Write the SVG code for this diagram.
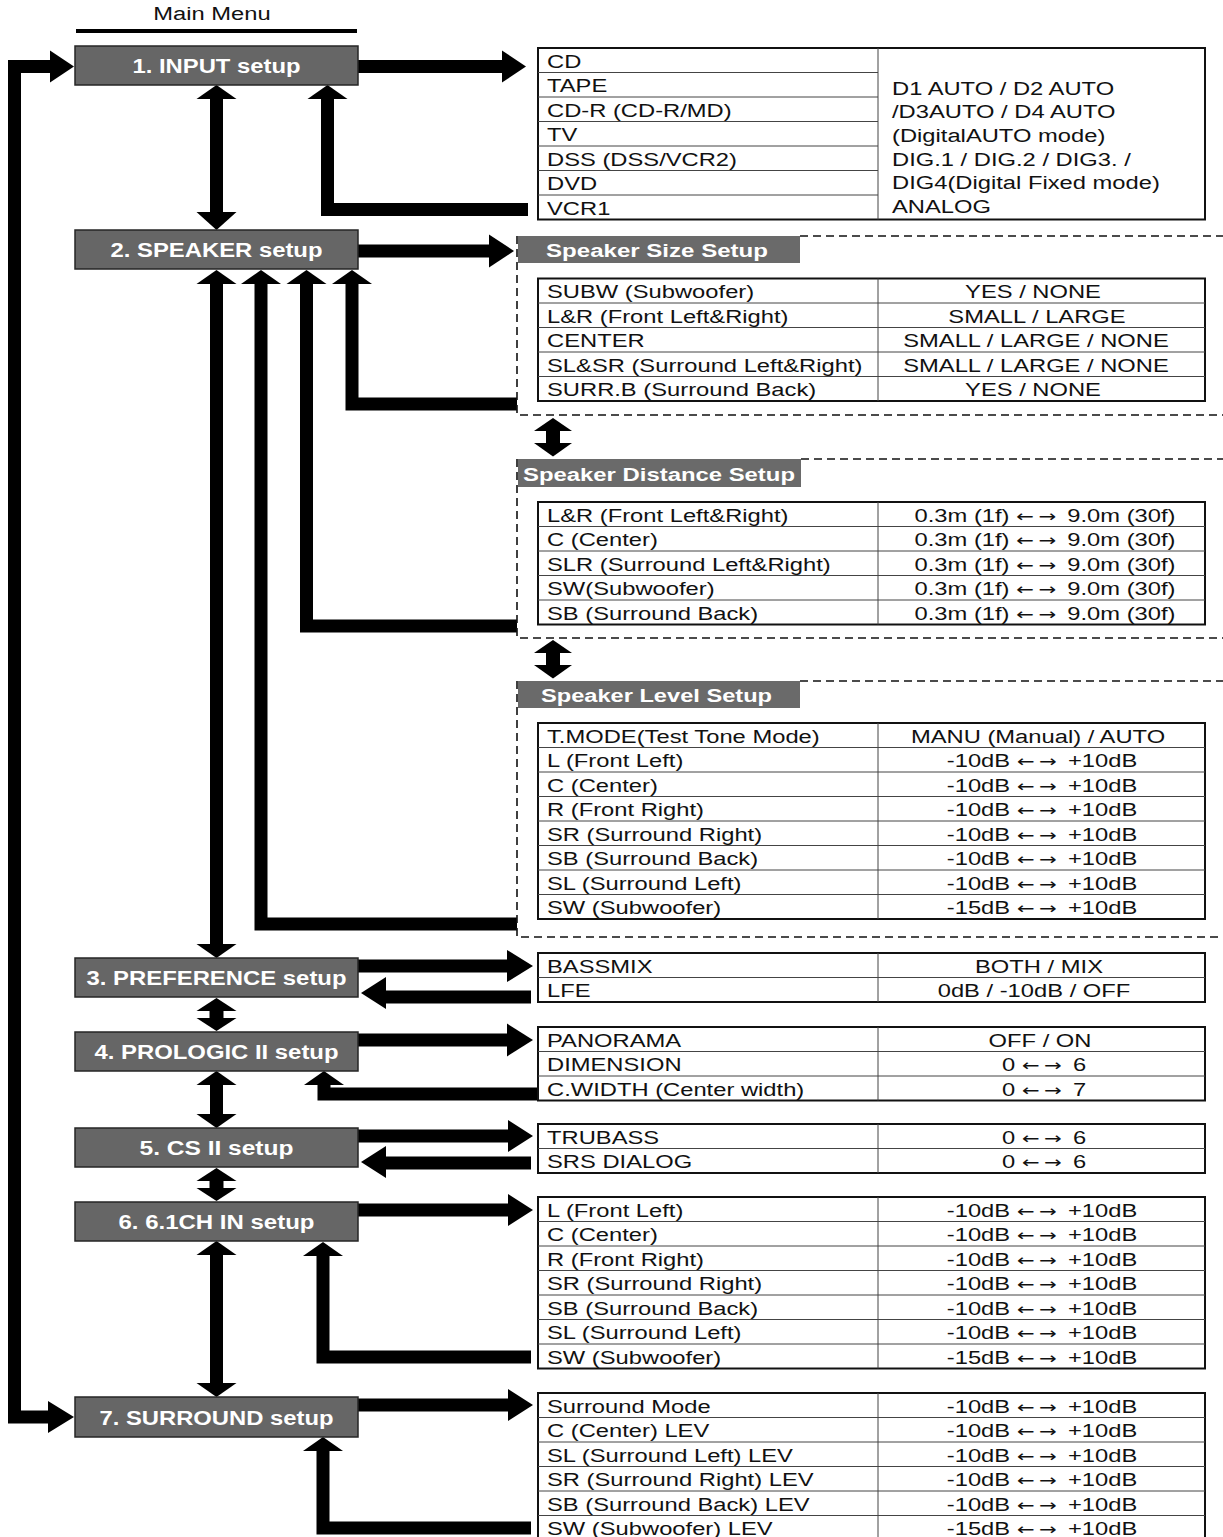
<svg xmlns="http://www.w3.org/2000/svg" width="1223" height="1537" viewBox="0 0 1223 1537">
<style>
.bg{fill:#ffffff}
.box{fill:#666666;stroke:#262626;stroke-width:1.5}
.hbar{fill:#6a6a6a}
.lbl{font-family:"Liberation Sans",Arial,Helvetica,sans-serif;font-weight:bold;font-size:20px;fill:#ffffff;text-anchor:middle}
.hdr{font-family:"Liberation Sans",Arial,Helvetica,sans-serif;font-weight:bold;font-size:18px;fill:#ffffff}
.t{font-family:"Liberation Sans",Arial,Helvetica,sans-serif;font-size:18px;fill:#111111}
.c{text-anchor:middle}
.ar{font-family:"DejaVu Sans",sans-serif;font-size:16px;letter-spacing:3.5px}
.tbl{fill:#ffffff;stroke:#111111;stroke-width:2}
.grid{fill:none;stroke:#444444;stroke-width:1}
.dash{fill:none;stroke:#111111;stroke-width:1.6;stroke-dasharray:8 5}
.shaft{fill:none;stroke:#000000;stroke-width:13;stroke-linejoin:miter;stroke-linecap:butt}
.head{fill:#000000}
.rule{stroke:#000000;stroke-width:4}
</style>
<rect class="bg" x="0" y="0" width="1223" height="1537"/>

<g id="title">
<text class="t c" transform="matrix(1.32 0 0 1 212 20)">Main Menu</text>
<line class="rule" x1="76" y1="31" x2="357" y2="31"/>
</g>

<g id="connectors">
<path class="shaft" d="M51 66.5 H14.5 V1417 H49"/>
<polygon class="head" points="50,50.5 74,66.5 50,82.5"/>
<polygon class="head" points="48,1401 74,1417 48,1433"/>
<path class="shaft" d="M358 66.5 H504"/>
<polygon class="head" points="502,50.5 526,66.5 502,82.5"/>
<path class="shaft" d="M528 209.5 H327.5 V98"/>
<polygon class="head" points="307.5,99 327.5,85 347.5,99"/>
<path class="shaft" d="M216.5 98 V213"/>
<polygon class="head" points="196.5,99 216.5,85 236.5,99"/>
<polygon class="head" points="196.5,212 216.5,230 236.5,212"/>
<path class="shaft" d="M358 251 H491"/>
<polygon class="head" points="489,234.5 514,251 489,267.5"/>
<path class="shaft" d="M216.5 283 V945"/>
<polygon class="head" points="196.5,284 216.5,270 236.5,284"/>
<polygon class="head" points="196.5,944 216.5,958 236.5,944"/>
<path class="shaft" d="M517 924 H261 V283"/>
<polygon class="head" points="241,284 261,270 281,284"/>
<path class="shaft" d="M517 626 H306.5 V283"/>
<polygon class="head" points="286.5,284 306.5,270 326.5,284"/>
<path class="shaft" d="M517 404 H352 V283"/>
<polygon class="head" points="332,284 352,270 372,284"/>
<path class="shaft" d="M553 430 V444" style="stroke-width:14"/>
<polygon class="head" points="534,431 553,418 572,431"/>
<polygon class="head" points="534,443 553,456.5 572,443"/>
<path class="shaft" d="M553 652 V666" style="stroke-width:14"/>
<polygon class="head" points="534,653 553,640 572,653"/>
<polygon class="head" points="534,665 553,678.5 572,665"/>
<path class="shaft" d="M358 966 H509"/>
<polygon class="head" points="507,950 533,966 507,982"/>
<path class="shaft" d="M531 997 H384"/>
<polygon class="head" points="386,977 361,993 386,1009"/>
<path class="shaft" d="M216.5 1010 V1019" style="stroke-width:14"/>
<polygon class="head" points="196.5,1011 216.5,998 236.5,1011"/>
<polygon class="head" points="196.5,1018 216.5,1031 236.5,1018"/>
<path class="shaft" d="M358 1040 H509"/>
<polygon class="head" points="507,1023.5 533,1040 507,1056.5"/>
<path class="shaft" d="M538 1094 H324 V1084"/>
<polygon class="head" points="304,1085 324,1071 344,1085"/>
<path class="shaft" d="M216.5 1084 V1115"/>
<polygon class="head" points="196.5,1085 216.5,1071 236.5,1085"/>
<polygon class="head" points="196.5,1114 216.5,1128 236.5,1114"/>
<path class="shaft" d="M358 1136 H510"/>
<polygon class="head" points="508,1120 533,1136 508,1152"/>
<path class="shaft" d="M531 1163 H384"/>
<polygon class="head" points="386,1146 361,1162 386,1178"/>
<path class="shaft" d="M216.5 1180 V1189" style="stroke-width:14"/>
<polygon class="head" points="196.5,1181 216.5,1168 236.5,1181"/>
<polygon class="head" points="196.5,1188 216.5,1201 236.5,1188"/>
<path class="shaft" d="M358 1210 H510"/>
<polygon class="head" points="508,1194 533,1210 508,1226"/>
<path class="shaft" d="M531 1357 H323 V1255"/>
<polygon class="head" points="303,1256 323,1242 343,1256"/>
<path class="shaft" d="M216.5 1254 V1384"/>
<polygon class="head" points="196.5,1255 216.5,1241 236.5,1255"/>
<polygon class="head" points="196.5,1383 216.5,1397 236.5,1383"/>
<path class="shaft" d="M358 1405 H510"/>
<polygon class="head" points="508,1389 533,1405 508,1421"/>
<path class="shaft" d="M531 1528 H323 V1450"/>
<polygon class="head" points="303,1451 323,1437 343,1451"/>
</g>

<g id="node-input">
<rect class="box" x="75" y="46" width="283" height="39"/>
<text class="lbl" x="216.5" y="73" textLength="168" lengthAdjust="spacingAndGlyphs">1. INPUT setup</text>
</g>
<g id="node-speaker">
<rect class="box" x="75" y="230" width="283" height="39"/>
<text class="lbl" x="216.5" y="257" textLength="212" lengthAdjust="spacingAndGlyphs">2. SPEAKER setup</text>
</g>
<g id="node-preference">
<rect class="box" x="75" y="958" width="283" height="39"/>
<text class="lbl" x="216.5" y="985" textLength="260" lengthAdjust="spacingAndGlyphs">3. PREFERENCE setup</text>
</g>
<g id="node-prologic">
<rect class="box" x="75" y="1032" width="283" height="39"/>
<text class="lbl" x="216.5" y="1059" textLength="244" lengthAdjust="spacingAndGlyphs">4. PROLOGIC II setup</text>
</g>
<g id="node-cs">
<rect class="box" x="75" y="1128" width="283" height="39"/>
<text class="lbl" x="216.5" y="1155" textLength="154" lengthAdjust="spacingAndGlyphs">5. CS II setup</text>
</g>
<g id="node-61ch">
<rect class="box" x="75" y="1202" width="283" height="39"/>
<text class="lbl" x="216.5" y="1229" textLength="196" lengthAdjust="spacingAndGlyphs">6. 6.1CH IN setup</text>
</g>
<g id="node-surround">
<rect class="box" x="75" y="1397" width="283" height="40"/>
<text class="lbl" x="216.5" y="1424.5" textLength="234" lengthAdjust="spacingAndGlyphs">7. SURROUND setup</text>
</g>

<g id="table-input">
<rect class="tbl" x="538" y="48" width="667" height="171.5"/>
<path class="grid" d="M878 48 V219.5 M538 72.5 H878 M538 97 H878 M538 121.5 H878 M538 146 H878 M538 170.5 H878 M538 195 H878"/>
<text class="t" transform="matrix(1.32 0 0 1 547 67.5)">CD</text>
<text class="t" transform="matrix(1.32 0 0 1 547 92)">TAPE</text>
<text class="t" transform="matrix(1.32 0 0 1 547 116.5)">CD-R (CD-R/MD)</text>
<text class="t" transform="matrix(1.32 0 0 1 547 141)">TV</text>
<text class="t" transform="matrix(1.32 0 0 1 547 165.5)">DSS (DSS/VCR2)</text>
<text class="t" transform="matrix(1.32 0 0 1 547 190)">DVD</text>
<text class="t" transform="matrix(1.32 0 0 1 547 214.5)">VCR1</text>
<text class="t" transform="matrix(1.32 0 0 1 892 94.5)">D1 AUTO / D2 AUTO</text>
<text class="t" transform="matrix(1.32 0 0 1 892 118.2)">/D3AUTO / D4 AUTO</text>
<text class="t" transform="matrix(1.32 0 0 1 892 141.9)">(DigitalAUTO mode)</text>
<text class="t" transform="matrix(1.32 0 0 1 892 165.6)">DIG.1 / DIG.2 / DIG3. /</text>
<text class="t" transform="matrix(1.32 0 0 1 892 189.3)">DIG4(Digital Fixed mode)</text>
<text class="t" transform="matrix(1.32 0 0 1 892 213)">ANALOG</text>
</g>

<g id="panel-speaker-size">
<path class="dash" d="M800 236 H1223 M517 236 V415 H1223"/>
<rect class="hbar" x="518" y="236" width="282" height="27"/>
<text class="hdr" x="546" y="257" textLength="222" lengthAdjust="spacingAndGlyphs">Speaker Size Setup</text>
<rect class="tbl" x="538" y="278.5" width="667" height="122.5"/>
<path class="grid" d="M878 278.5 V401 M538 303 H1205 M538 327.5 H1205 M538 352 H1205 M538 376.5 H1205"/>
<text class="t" transform="matrix(1.32 0 0 1 547 298)">SUBW (Subwoofer)</text>
<text class="t" transform="matrix(1.32 0 0 1 547 322.5)">L&amp;R (Front Left&amp;Right)</text>
<text class="t" transform="matrix(1.32 0 0 1 547 347)">CENTER</text>
<text class="t" transform="matrix(1.32 0 0 1 547 371.5)">SL&amp;SR (Surround Left&amp;Right)</text>
<text class="t" transform="matrix(1.32 0 0 1 547 396)">SURR.B (Surround Back)</text>
<text class="t c" transform="matrix(1.32 0 0 1 1033 298)">YES / NONE</text>
<text class="t c" transform="matrix(1.32 0 0 1 1037 322.5)">SMALL / LARGE</text>
<text class="t c" transform="matrix(1.32 0 0 1 1036 347)">SMALL / LARGE / NONE</text>
<text class="t c" transform="matrix(1.32 0 0 1 1036 371.5)">SMALL / LARGE / NONE</text>
<text class="t c" transform="matrix(1.32 0 0 1 1033 396)">YES / NONE</text>
</g>

<g id="panel-speaker-distance">
<path class="dash" d="M801 459 H1223 M517 459 V638 H1223"/>
<rect class="hbar" x="518" y="459" width="283" height="28"/>
<text class="hdr" x="523" y="481" textLength="272" lengthAdjust="spacingAndGlyphs">Speaker Distance Setup</text>
<rect class="tbl" x="538" y="502" width="667" height="122.5"/>
<path class="grid" d="M878 502 V624.5 M538 526.5 H1205 M538 551 H1205 M538 575.5 H1205 M538 600 H1205"/>
<text class="t" transform="matrix(1.32 0 0 1 547 521.5)">L&amp;R (Front Left&amp;Right)</text>
<text class="t" transform="matrix(1.32 0 0 1 547 546)">C (Center)</text>
<text class="t" transform="matrix(1.32 0 0 1 547 570.5)">SLR (Surround Left&amp;Right)</text>
<text class="t" transform="matrix(1.32 0 0 1 547 595)">SW(Subwoofer)</text>
<text class="t" transform="matrix(1.32 0 0 1 547 619.5)">SB (Surround Back)</text>
<text class="t c" transform="matrix(1.32 0 0 1 1045 521.5)">0.3m (1f) <tspan class="ar">←→</tspan> 9.0m (30f)</text>
<text class="t c" transform="matrix(1.32 0 0 1 1045 546)">0.3m (1f) <tspan class="ar">←→</tspan> 9.0m (30f)</text>
<text class="t c" transform="matrix(1.32 0 0 1 1045 570.5)">0.3m (1f) <tspan class="ar">←→</tspan> 9.0m (30f)</text>
<text class="t c" transform="matrix(1.32 0 0 1 1045 595)">0.3m (1f) <tspan class="ar">←→</tspan> 9.0m (30f)</text>
<text class="t c" transform="matrix(1.32 0 0 1 1045 619.5)">0.3m (1f) <tspan class="ar">←→</tspan> 9.0m (30f)</text>
</g>

<g id="panel-speaker-level">
<path class="dash" d="M800 681 H1223 M517 681 V937 H1223"/>
<rect class="hbar" x="518" y="681" width="282" height="27"/>
<text class="hdr" x="541" y="702" textLength="231" lengthAdjust="spacingAndGlyphs">Speaker Level Setup</text>
<rect class="tbl" x="538" y="723" width="667" height="196"/>
<path class="grid" d="M878 723 V919 M538 747.5 H1205 M538 772 H1205 M538 796.5 H1205 M538 821 H1205 M538 845.5 H1205 M538 870 H1205 M538 894.5 H1205"/>
<text class="t" transform="matrix(1.32 0 0 1 547 742.5)">T.MODE(Test Tone Mode)</text>
<text class="t" transform="matrix(1.32 0 0 1 547 767)">L (Front Left)</text>
<text class="t" transform="matrix(1.32 0 0 1 547 791.5)">C (Center)</text>
<text class="t" transform="matrix(1.32 0 0 1 547 816)">R (Front Right)</text>
<text class="t" transform="matrix(1.32 0 0 1 547 840.5)">SR (Surround Right)</text>
<text class="t" transform="matrix(1.32 0 0 1 547 865)">SB (Surround Back)</text>
<text class="t" transform="matrix(1.32 0 0 1 547 889.5)">SL (Surround Left)</text>
<text class="t" transform="matrix(1.32 0 0 1 547 914)">SW (Subwoofer)</text>
<text class="t c" transform="matrix(1.32 0 0 1 1038 742.5)">MANU (Manual) / AUTO</text>
<text class="t c" transform="matrix(1.32 0 0 1 1042 767)">-10dB <tspan class="ar">←→</tspan> +10dB</text>
<text class="t c" transform="matrix(1.32 0 0 1 1042 791.5)">-10dB <tspan class="ar">←→</tspan> +10dB</text>
<text class="t c" transform="matrix(1.32 0 0 1 1042 816)">-10dB <tspan class="ar">←→</tspan> +10dB</text>
<text class="t c" transform="matrix(1.32 0 0 1 1042 840.5)">-10dB <tspan class="ar">←→</tspan> +10dB</text>
<text class="t c" transform="matrix(1.32 0 0 1 1042 865)">-10dB <tspan class="ar">←→</tspan> +10dB</text>
<text class="t c" transform="matrix(1.32 0 0 1 1042 889.5)">-10dB <tspan class="ar">←→</tspan> +10dB</text>
<text class="t c" transform="matrix(1.32 0 0 1 1042 914)">-15dB <tspan class="ar">←→</tspan> +10dB</text>
</g>

<g id="table-preference">
<rect class="tbl" x="538" y="953" width="667" height="49"/>
<path class="grid" d="M878 953 V1002 M538 977.5 H1205"/>
<text class="t" transform="matrix(1.32 0 0 1 547 972.5)">BASSMIX</text>
<text class="t" transform="matrix(1.32 0 0 1 547 997)">LFE</text>
<text class="t c" transform="matrix(1.32 0 0 1 1039 972.5)">BOTH / MIX</text>
<text class="t c" transform="matrix(1.32 0 0 1 1034 997)">0dB / -10dB / OFF</text>
</g>

<g id="table-prologic">
<rect class="tbl" x="538" y="1027" width="667" height="73.5"/>
<path class="grid" d="M878 1027 V1100.5 M538 1051.5 H1205 M538 1076 H1205"/>
<text class="t" transform="matrix(1.32 0 0 1 547 1046.5)">PANORAMA</text>
<text class="t" transform="matrix(1.32 0 0 1 547 1071)">DIMENSION</text>
<text class="t" transform="matrix(1.32 0 0 1 547 1095.5)">C.WIDTH (Center width)</text>
<text class="t c" transform="matrix(1.32 0 0 1 1040 1046.5)">OFF / ON</text>
<text class="t c" transform="matrix(1.32 0 0 1 1044 1071)">0 <tspan class="ar">←→</tspan> 6</text>
<text class="t c" transform="matrix(1.32 0 0 1 1044 1095.5)">0 <tspan class="ar">←→</tspan> 7</text>
</g>

<g id="table-cs">
<rect class="tbl" x="538" y="1124" width="667" height="49"/>
<path class="grid" d="M878 1124 V1173 M538 1148.5 H1205"/>
<text class="t" transform="matrix(1.32 0 0 1 547 1143.5)">TRUBASS</text>
<text class="t" transform="matrix(1.32 0 0 1 547 1168)">SRS DIALOG</text>
<text class="t c" transform="matrix(1.32 0 0 1 1044 1143.5)">0 <tspan class="ar">←→</tspan> 6</text>
<text class="t c" transform="matrix(1.32 0 0 1 1044 1168)">0 <tspan class="ar">←→</tspan> 6</text>
</g>

<g id="table-61ch">
<rect class="tbl" x="538" y="1197" width="667" height="171.5"/>
<path class="grid" d="M878 1197 V1368.5 M538 1221.5 H1205 M538 1246 H1205 M538 1270.5 H1205 M538 1295 H1205 M538 1319.5 H1205 M538 1344 H1205"/>
<text class="t" transform="matrix(1.32 0 0 1 547 1216.5)">L (Front Left)</text>
<text class="t" transform="matrix(1.32 0 0 1 547 1241)">C (Center)</text>
<text class="t" transform="matrix(1.32 0 0 1 547 1265.5)">R (Front Right)</text>
<text class="t" transform="matrix(1.32 0 0 1 547 1290)">SR (Surround Right)</text>
<text class="t" transform="matrix(1.32 0 0 1 547 1314.5)">SB (Surround Back)</text>
<text class="t" transform="matrix(1.32 0 0 1 547 1339)">SL (Surround Left)</text>
<text class="t" transform="matrix(1.32 0 0 1 547 1363.5)">SW (Subwoofer)</text>
<text class="t c" transform="matrix(1.32 0 0 1 1042 1216.5)">-10dB <tspan class="ar">←→</tspan> +10dB</text>
<text class="t c" transform="matrix(1.32 0 0 1 1042 1241)">-10dB <tspan class="ar">←→</tspan> +10dB</text>
<text class="t c" transform="matrix(1.32 0 0 1 1042 1265.5)">-10dB <tspan class="ar">←→</tspan> +10dB</text>
<text class="t c" transform="matrix(1.32 0 0 1 1042 1290)">-10dB <tspan class="ar">←→</tspan> +10dB</text>
<text class="t c" transform="matrix(1.32 0 0 1 1042 1314.5)">-10dB <tspan class="ar">←→</tspan> +10dB</text>
<text class="t c" transform="matrix(1.32 0 0 1 1042 1339)">-10dB <tspan class="ar">←→</tspan> +10dB</text>
<text class="t c" transform="matrix(1.32 0 0 1 1042 1363.5)">-15dB <tspan class="ar">←→</tspan> +10dB</text>
</g>

<g id="table-surround">
<rect class="tbl" x="538" y="1393" width="667" height="147"/>
<path class="grid" d="M878 1393 V1540 M538 1417.5 H1205 M538 1442 H1205 M538 1466.5 H1205 M538 1491 H1205 M538 1515.5 H1205"/>
<text class="t" transform="matrix(1.32 0 0 1 547 1412.5)">Surround Mode</text>
<text class="t" transform="matrix(1.32 0 0 1 547 1437)">C (Center) LEV</text>
<text class="t" transform="matrix(1.32 0 0 1 547 1461.5)">SL (Surround Left) LEV</text>
<text class="t" transform="matrix(1.32 0 0 1 547 1486)">SR (Surround Right) LEV</text>
<text class="t" transform="matrix(1.32 0 0 1 547 1510.5)">SB (Surround Back) LEV</text>
<text class="t" transform="matrix(1.32 0 0 1 547 1535)">SW (Subwoofer) LEV</text>
<text class="t c" transform="matrix(1.32 0 0 1 1042 1412.5)">-10dB <tspan class="ar">←→</tspan> +10dB</text>
<text class="t c" transform="matrix(1.32 0 0 1 1042 1437)">-10dB <tspan class="ar">←→</tspan> +10dB</text>
<text class="t c" transform="matrix(1.32 0 0 1 1042 1461.5)">-10dB <tspan class="ar">←→</tspan> +10dB</text>
<text class="t c" transform="matrix(1.32 0 0 1 1042 1486)">-10dB <tspan class="ar">←→</tspan> +10dB</text>
<text class="t c" transform="matrix(1.32 0 0 1 1042 1510.5)">-10dB <tspan class="ar">←→</tspan> +10dB</text>
<text class="t c" transform="matrix(1.32 0 0 1 1042 1535)">-15dB <tspan class="ar">←→</tspan> +10dB</text>
</g>
</svg>
